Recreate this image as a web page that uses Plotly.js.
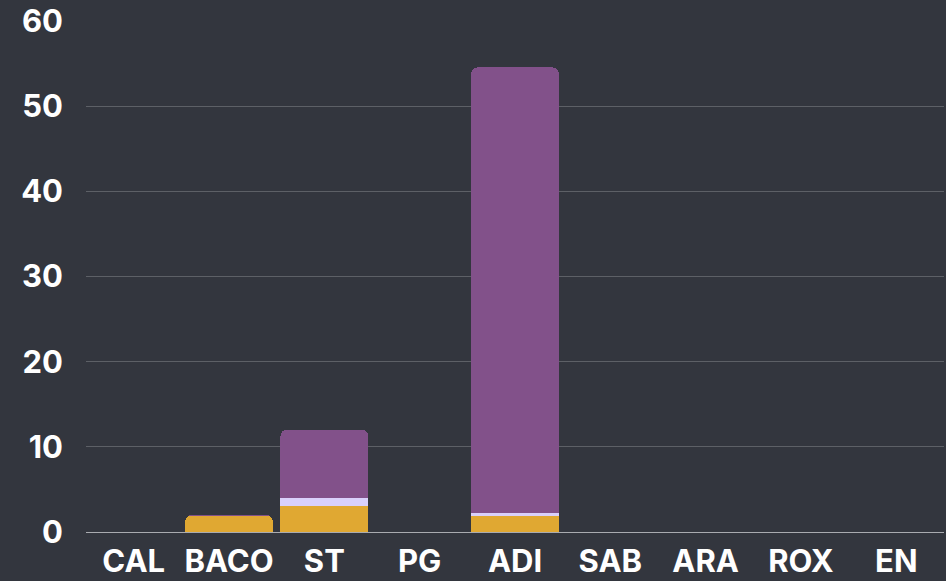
<!DOCTYPE html>
<html><head><meta charset="utf-8">
<script src="https://cdn.plot.ly/plotly-3.0.1.min.js"></script>
<style>html,body{margin:0;padding:0;background:#33363e;}</style>
</head><body>
<div id="chart" style="width:946px;height:581px;"></div>
<script>
const categories = ["CAL","BACO","ST","PG","ADI","SAB","ARA","ROX","EN"];
const orangeVals = [0, 1.9, 3, 0, 1.9, 0, 0, 0, 0];
const lavenderVals = [0, 0, 1, 0, 0.35, 0, 0, 0, 0];
const purpleVals = [0, 0.1, 8, 0, 52.3, 0, 0, 0, 0];
const yTicks = [0,10,20,30,40,50,60];

const mk = (y, color) => ({type:'bar', x:categories, y:y, marker:{color:color, line:{width:0}}, hoverinfo:'skip'});
const data = [mk(orangeVals,'#e0a832'), mk(lavenderVals,'#d9d0fb'), mk(purpleVals,'#82518a')];
const layout = {
  width:946, height:581,
  barmode:'stack', bargap:0.08, barcornerradius:6,
  paper_bgcolor:'#33363e', plot_bgcolor:'#33363e',
  showlegend:false,
  margin:{l:86, r:2, t:21, b:49},
  font:{family:'Inter, "Open Sans", sans-serif', color:'#ffffff'},
  xaxis:{tickfont:{size:31, weight:'bold', color:'#ffffff'}, showgrid:false, showline:false, ticks:'', ticklabelstandoff:8},
  yaxis:{range:[0,60], tickvals:yTicks, tickfont:{size:31, weight:'bold', color:'#ffffff'}, gridcolor:'#5d6066', gridwidth:1, zeroline:true, zerolinecolor:'#a9abb0', zerolinewidth:1, showline:false, ticks:'', ticklabelstandoff:22}
};
Plotly.newPlot('chart', data, layout, {displayModeBar:false, staticPlot:true});
</script>
</body></html>
